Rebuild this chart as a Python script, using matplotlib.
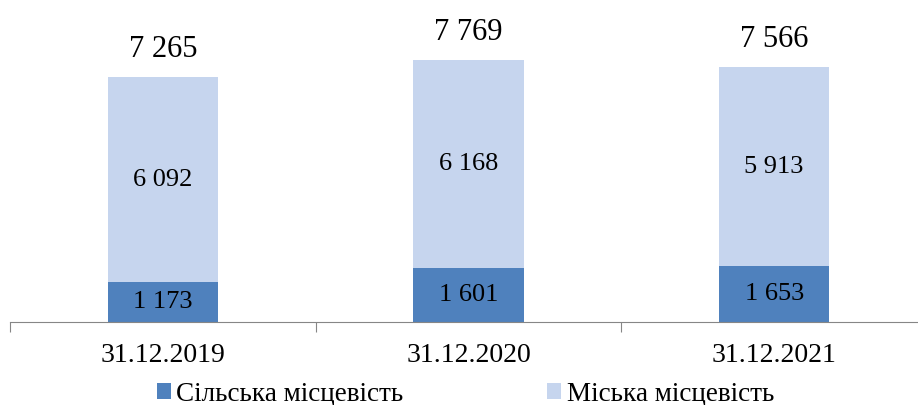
import numpy as np
import matplotlib.pyplot as plt

# data
years = ['31.12.2019', '31.12.2020', '31.12.2021']
rural = [1173, 1601, 1653]
urban = [6092, 6168, 5913]
labels = ['Сільська місцевість', 'Міська місцевість']

plt.rcParams['font.family'] = ['Liberation Serif', 'DejaVu Serif']

def fmt(v):
    return '{:,}'.format(v).replace(',', ' ')

fig = plt.figure(figsize=(9.18, 4.05), dpi=100)
ax = fig.add_axes([10 / 918, 83 / 405, 917 / 918, 303.5 / 405])

x = np.arange(len(years))
total = np.array(rural) + np.array(urban)
b1 = ax.bar(x, rural, width=0.36, color='#4F81BD', label=labels[0])
b2 = ax.bar(x, urban, width=0.36, bottom=rural, color='#C6D5EE', label=labels[1])

for i in range(len(years)):
    ax.text(x[i], rural[i] / 2, fmt(rural[i]), ha='center', va='center', fontsize=19)
    ax.text(x[i], rural[i] + urban[i] / 2, fmt(urban[i]), ha='center', va='center', fontsize=19)
    ax.text(x[i], total[i] + 820, fmt(int(total[i])), ha='center', va='center', fontsize=22)

ax.set_xlim(-0.5, 2.5)
ax.set_ylim(0, 9000)
ax.set_xticks([-0.5, 0.5, 1.5, 2.5])
ax.set_xticklabels([])
ax.set_xticks(x, minor=True)
ax.set_xticklabels(years, minor=True, fontsize=20)
ax.tick_params(axis='x', which='major', direction='out', length=7, color='#868686')
ax.tick_params(axis='x', which='minor', length=0, pad=15)
ax.set_yticks([])
for s in ['top', 'right', 'left']:
    ax.spines[s].set_visible(False)
ax.spines['bottom'].set_color('#868686')

fig.legend(handles=[b1, b2], loc='center', bbox_to_anchor=(0.507, 11 / 405), ncol=2,
           frameon=False, fontsize=19.5, handlelength=0.52, handleheight=0.52,
           handletextpad=0.2, columnspacing=5.3)

fig.savefig('out.png', dpi=100)
